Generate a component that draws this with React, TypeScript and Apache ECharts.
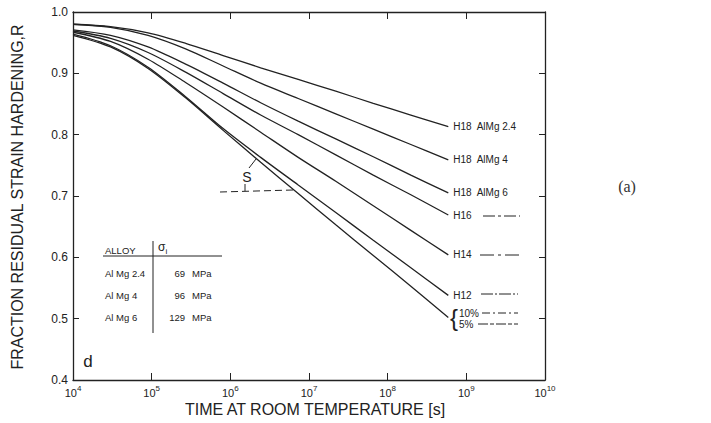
import React, { useEffect, useRef } from "react";
import * as echarts from "echarts";

// time at room temperature [s] (steps of x3)
const timeS = [1e4, 3e4, 9e4, 2.7e5, 8.1e5, 2.43e6, 7.29e6, 2.19e7, 6.56e7, 1.97e8, 5.9e8];
// fraction residual strain hardening R
const h18AlMg24 = [0.98, 0.976, 0.966, 0.949, 0.929, 0.909, 0.89, 0.871, 0.851, 0.832, 0.813];
const h18AlMg4 = [0.98, 0.975, 0.962, 0.94, 0.912, 0.884, 0.859, 0.834, 0.809, 0.784, 0.759];
const h18AlMg6 = [0.971, 0.962, 0.943, 0.915, 0.884, 0.852, 0.822, 0.793, 0.764, 0.734, 0.705];
const h16 = [0.969, 0.957, 0.934, 0.902, 0.867, 0.832, 0.8, 0.767, 0.734, 0.702, 0.669];
const h14 = [0.967, 0.952, 0.923, 0.885, 0.845, 0.804, 0.763, 0.724, 0.684, 0.644, 0.604];
const h12 = [0.964, 0.945, 0.91, 0.862, 0.81, 0.763, 0.718, 0.673, 0.628, 0.583, 0.538];
const strain5to10 = [0.962, 0.943, 0.908, 0.86, 0.807, 0.755, 0.704, 0.653, 0.603, 0.553, 0.502];

const curveNames = ["H18  AlMg 2.4", "H18  AlMg 4", "H18  AlMg 6", "H16", "H14", "H12", ""];
const curveValues = [h18AlMg24, h18AlMg4, h18AlMg6, h16, h14, h12, strain5to10];

const yTicks = { min: 0.4, max: 1.0, interval: 0.1 };
const xRange = { min: 1e4, max: 1e10 };

const tableAlloys = ["Al Mg 2.4", "Al Mg 4", "Al Mg 6"];
const tableStress = ["69", "96", "129"];

const FONT = "Liberation Sans, Arial, sans-serif";
const INK = "#222";

export default function App() {
  const ref = useRef<HTMLDivElement>(null);
  useEffect(() => {
    if (!ref.current) return;
    const chart = echarts.init(ref.current, undefined, { renderer: "svg" });
    const series = curveValues.map((vals, i) => ({
      type: "line",
      name: curveNames[i],
      data: timeS.map((t, j) => [t, vals[j]]),
      smooth: 0.3,
      symbol: "none",
      lineStyle: { color: INK, width: 1.3 },
      endLabel: curveNames[i]
        ? { show: true, formatter: "{a}", distance: 5, fontSize: 10, color: INK, fontFamily: FONT }
        : { show: false },
      xAxisIndex: 0,
      yAxisIndex: 0,
    }));

    const tableRows: any[] = [];
    tableAlloys.forEach((a, i) => {
      const y = 273 + i * 22;
      tableRows.push({ type: "text", x: 105, y, style: { text: a, fontSize: 9.5, fill: INK, fontFamily: FONT, verticalAlign: "middle" } });
      tableRows.push({ type: "text", x: 185, y, style: { text: tableStress[i], fontSize: 9.5, fill: INK, fontFamily: FONT, align: "right", verticalAlign: "middle" } });
      tableRows.push({ type: "text", x: 192, y, style: { text: "MPa", fontSize: 9.5, fill: INK, fontFamily: FONT, verticalAlign: "middle" } });
    });

    const dashLine = (x1: number, x2: number, y: number, dash: number[]) => ({
      type: "line",
      shape: { x1, y1: y, x2, y2: y },
      style: { stroke: INK, lineWidth: 1, lineDash: dash },
    });

    chart.setOption({
      animation: false,
      backgroundColor: "#fff",
      grid: { left: 73, right: 166, top: 12, bottom: 43, show: false },
      xAxis: [
        {
          type: "log",
          logBase: 10,
          min: xRange.min,
          max: xRange.max,
          interval: 1,
          position: "bottom",
          axisLine: { show: true, lineStyle: { color: INK, width: 1.3 } },
          axisTick: { show: true, inside: true, length: 7, lineStyle: { color: INK } },
          splitLine: { show: false },
          minorTick: { show: false },
          axisLabel: {
            margin: 4,
            formatter: (v: number) => `{b|10}{s|${Math.round(Math.log10(v))}}`,
            rich: {
              b: { fontSize: 11, color: INK, fontFamily: FONT, lineHeight: 14, verticalAlign: "bottom" },
              s: { fontSize: 8, color: INK, fontFamily: FONT, lineHeight: 9, verticalAlign: "top" },
            },
          },
        },
        {
          type: "log",
          logBase: 10,
          min: xRange.min,
          max: xRange.max,
          interval: 1,
          position: "top",
          axisLine: { show: true, lineStyle: { color: INK, width: 1.3 } },
          axisTick: { show: true, inside: true, length: 7, lineStyle: { color: INK } },
          axisLabel: { show: false },
          splitLine: { show: false },
        },
      ],
      yAxis: [
        {
          type: "value",
          min: yTicks.min,
          max: yTicks.max,
          interval: yTicks.interval,
          position: "left",
          axisLine: { show: true, lineStyle: { color: INK, width: 1.3 } },
          axisTick: { show: true, inside: true, length: 6, lineStyle: { color: INK } },
          splitLine: { show: false },
          axisLabel: { margin: 5, fontSize: 12, color: INK, fontFamily: FONT, formatter: (v: number) => v.toFixed(1) },
        },
        {
          type: "value",
          min: yTicks.min,
          max: yTicks.max,
          interval: yTicks.interval,
          position: "right",
          axisLine: { show: true, lineStyle: { color: INK, width: 1.3 } },
          axisTick: { show: true, inside: true, length: 6, lineStyle: { color: INK } },
          splitLine: { show: false },
          axisLabel: { show: false },
        },
      ],
      series,
      graphic: [
        {
          type: "text",
          x: 17,
          y: 197,
          rotation: Math.PI / 2,
          style: { text: "FRACTION RESIDUAL STRAIN HARDENING,R", fontSize: 16, fill: INK, fontFamily: FONT, align: "center", verticalAlign: "middle" },
        },
        {
          type: "text",
          x: 315,
          y: 409,
          style: { text: "TIME AT ROOM TEMPERATURE [s]", fontSize: 16, fill: INK, fontFamily: FONT, align: "center", verticalAlign: "middle" },
        },
        { type: "text", x: 627, y: 186, style: { text: "(a)", fontSize: 16, fill: "#333", fontFamily: "Liberation Serif, serif", align: "center", verticalAlign: "middle" } },
        { type: "text", x: 88, y: 361, style: { text: "d", fontSize: 17, fill: INK, fontFamily: FONT, align: "center", verticalAlign: "middle" } },
        // inset table
        { type: "text", x: 105, y: 250, style: { text: "ALLOY", fontSize: 9.5, fill: INK, fontFamily: FONT, verticalAlign: "middle" } },
        {
          type: "text",
          x: 158,
          y: 248,
          style: {
            text: "{s|σ}{i|i}",
            verticalAlign: "middle",
            rich: {
              s: { fontSize: 12, fill: INK, fontFamily: FONT, lineHeight: 15, verticalAlign: "top" },
              i: { fontSize: 8, fill: INK, fontFamily: FONT, lineHeight: 9, verticalAlign: "bottom" },
            },
          },
        },
        { type: "line", shape: { x1: 103, y1: 256, x2: 222, y2: 256 }, style: { stroke: INK, lineWidth: 1 } },
        { type: "line", shape: { x1: 153, y1: 241, x2: 153, y2: 333 }, style: { stroke: INK, lineWidth: 1 } },
        ...tableRows,
        // S annotation
        { type: "text", x: 247, y: 177, style: { text: "S", fontSize: 14, fill: INK, fontFamily: FONT, align: "center", verticalAlign: "middle" } },
        { type: "line", shape: { x1: 249, y1: 168, x2: 256, y2: 159 }, style: { stroke: INK, lineWidth: 1 } },
        { type: "line", shape: { x1: 245, y1: 184, x2: 245, y2: 191 }, style: { stroke: INK, lineWidth: 1 } },
        { type: "line", shape: { x1: 220, y1: 192, x2: 293, y2: 190 }, style: { stroke: INK, lineWidth: 1, lineDash: [7, 4] } },
        // right-hand legend dashes
        dashLine(483, 520, 216, [12, 3, 3, 3]),
        dashLine(480, 520, 255, [14, 4, 3, 4]),
        dashLine(481, 518, 294, [12, 2, 2, 2]),
        // brace for 10% / 5%
        { type: "text", x: 450, y: 317, style: { text: "{", fontSize: 24, fill: INK, fontFamily: FONT, verticalAlign: "middle" } },
        { type: "text", x: 459, y: 313, style: { text: "10%", fontSize: 10, fill: INK, fontFamily: FONT, verticalAlign: "middle" } },
        { type: "text", x: 459, y: 324, style: { text: "5%", fontSize: 10, fill: INK, fontFamily: FONT, verticalAlign: "middle" } },
        dashLine(482, 518, 313, [8, 3, 2, 3]),
        dashLine(478, 518, 324, [10, 2, 4, 2]),
      ],
    });
    return () => chart.dispose();
  }, []);
  return <div ref={ref} style={{ position: "fixed", left: 0, top: 0, width: 711, height: 423 }} />;
}
